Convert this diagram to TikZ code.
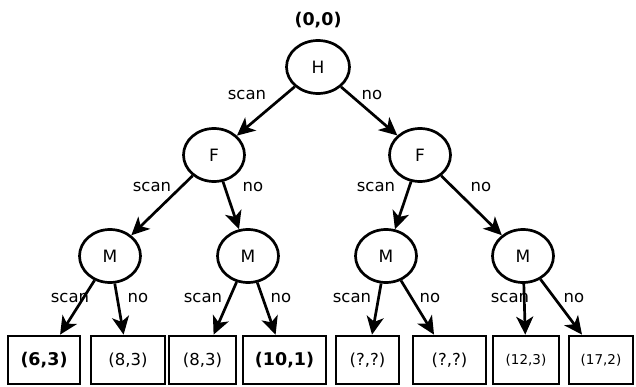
\documentclass[tikz,border=0pt]{standalone}
\usepackage{fontspec}
\setmainfont{DejaVu Sans}
\usetikzlibrary{shapes.geometric,arrows.meta}
\begin{document}
\begin{tikzpicture}[x=1pt,y=-1pt,
  st/.style={ellipse,draw,line width=2.7pt,minimum width=61pt,minimum height=53pt,inner sep=0pt,font=\fontsize{17}{20}\selectfont},
  leaf/.style={rectangle,draw,line width=2.7pt,minimum height=48pt,inner sep=0pt,font=\fontsize{16.5}{20}\selectfont},
  bleaf/.style={leaf,font=\fontsize{17.5}{20}\selectfont\bfseries},
  sleaf/.style={leaf,font=\fontsize{13.5}{16}\selectfont},
  lbl/.style={font=\fontsize{16.5}{20}\selectfont,inner sep=0pt},
  edge/.style={line width=2.7pt,-{Stealth[length=18pt,width=17pt,inset=5pt]}}]
\useasboundingbox (0,0) rectangle (636,387);
\node[lbl,font=\fontsize{17.5}{20}\selectfont\bfseries] (root) at (318,20) {(0,0)};
\node[st,minimum width=63pt] (H) at (318,67) {H};
\node[st] (F1) at (214,155) {F};
\node[st] (F2) at (420,155) {F};
\node[st] (M1) at (110,256) {M};
\node[st] (M2) at (248,256) {M};
\node[st] (M3) at (386,256) {M};
\node[st] (M4) at (523,256) {M};
\node[bleaf,minimum width=72pt] (L1) at (44,360) {(6,3)};
\node[leaf,minimum width=74pt] (L2) at (128,360) {(8,3)};
\node[leaf,minimum width=67pt] (L3) at (202.5,360) {(8,3)};
\node[bleaf,minimum width=83pt] (L4) at (284.5,360) {(10,1)};
\node[leaf,minimum width=63pt] (L5) at (367.5,360) {(?,?)};
\node[leaf,minimum width=73pt] (L6) at (449.5,360) {(?,?)};
\node[sleaf,minimum width=66pt] (L7) at (526,360) {(12,3)};
\node[sleaf,minimum width=64pt] (L8) at (601,360) {(17,2)};
\draw[edge] (H) -- (F1);
\draw[edge] (H) -- (F2);
\draw[edge] (F1) -- (M1);
\draw[edge] (F1) -- (M2);
\draw[edge] (F2) -- (M3);
\draw[edge] (F2) -- (M4);
\draw[edge] (M1) -- (L1);
\draw[edge] (M1) -- (L2);
\draw[edge] (M2) -- (L3);
\draw[edge] (M2) -- (L4);
\draw[edge] (M3) -- (L5);
\draw[edge] (M3) -- (L6);
\draw[edge] (M4) -- (L7);
\draw[edge] (M4) -- (L8);
\node[lbl] (s0) at (247,95) {scan};
\node[lbl] (n0) at (372,95) {no};
\node[lbl] (s1) at (152,187) {scan};
\node[lbl] (n1) at (253,187) {no};
\node[lbl] (s2) at (376,187) {scan};
\node[lbl] (n2) at (481,187) {no};
\node[lbl] (s3) at (70,298) {scan};
\node[lbl] (n3) at (138,298) {no};
\node[lbl] (s4) at (203,298) {scan};
\node[lbl] (n4) at (281,298) {no};
\node[lbl] (s5) at (352,298) {scan};
\node[lbl] (n5) at (430,298) {no};
\node[lbl] (s6) at (510,298) {scan};
\node[lbl] (n6) at (574,298) {no};
\end{tikzpicture}
\end{document}
